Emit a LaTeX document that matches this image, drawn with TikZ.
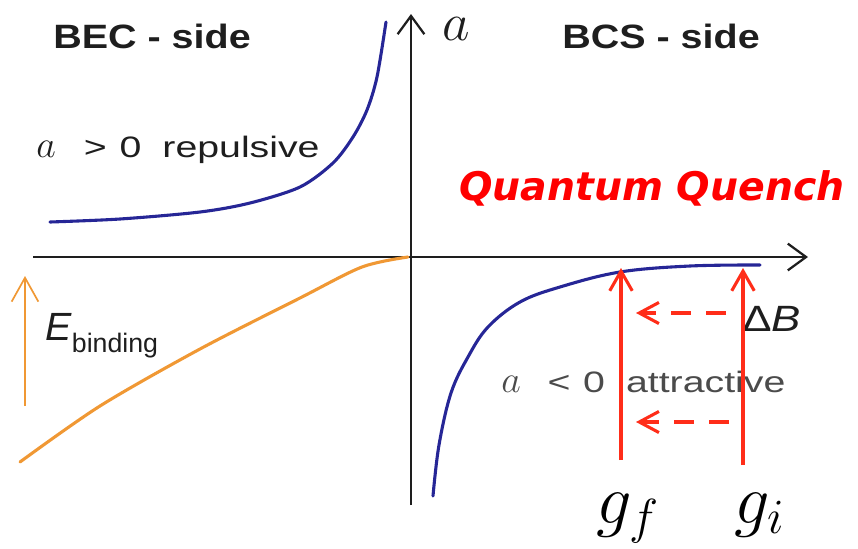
\RequirePackage{fix-cm}
\documentclass[tikz,border=0pt]{standalone}
\usepackage{amsmath}
\usepackage{fontspec}
\newfontfamily\labelfont{Liberation Sans}
\newfontfamily\titlefont[FakeStretch=1.17]{Liberation Sans}
\newfontfamily\regimefont[FakeStretch=1.33]{Liberation Sans}
\newfontfamily\deltafont[FakeStretch=1.2]{Liberation Sans}
\newfontfamily\quenchfont{DejaVu Sans}
\usetikzlibrary{arrows.meta}

\definecolor{curveblue}{RGB}{38,38,150}
\definecolor{bindorange}{RGB}{240,152,52}
\definecolor{quenchred}{RGB}{255,45,25}
\definecolor{labelgray}{RGB}{30,30,30}
\definecolor{softgray}{RGB}{75,75,75}

\begin{document}
\begin{tikzpicture}[
    x=0.025cm,
    y=-0.025cm,
    axis/.style={
        -{Straight Barb[length=13pt,width=19pt,line width=1.6pt]},
        line width=1.6pt,
        labelgray
    },
    bluecurve/.style={
        curveblue,
        line width=2.2pt,
        line cap=round
    },
    orangecurve/.style={
        bindorange,
        line width=2.2pt,
        line cap=round
    },
    bindarrow/.style={
        -{Straight Barb[length=17pt,width=19pt,line width=1.2pt]},
        bindorange,
        line width=1.2pt
    },
    quencharrow/.style={
        -{Straight Barb[length=14pt,width=16pt,line width=2.2pt]},
        quenchred,
        line width=2.2pt
    },
    sweeparrow/.style={
        -{Straight Barb[length=14pt,width=15pt,line width=2.2pt]},
        quenchred,
        line width=2.2pt,
        dash pattern=on 14pt off 11pt
    },
    sidetitle/.style={
        anchor=base west,
        inner sep=0pt,
        font=\titlefont\bfseries\fontsize{24}{28}\selectfont,
        text=labelgray
    },
    regime/.style={
        anchor=base west,
        inner sep=0pt,
        font=\regimefont\fontsize{21}{25}\selectfont
    },
    couplinglabel/.style={
        anchor=base,
        inner sep=0pt,
        font=\fontsize{50}{54}\selectfont
    }
]

\useasboundingbox (0,0) rectangle (858,548);

% ------------------------------------------------------------
% Axes
% ------------------------------------------------------------
\coordinate (axis-left)   at (33,257);
\coordinate (axis-right)  at (808,257);
\coordinate (axis-bottom) at (411,505);
\coordinate (axis-top)    at (411,14);

\draw[axis] (axis-left)   -- (axis-right);
\draw[axis] (axis-bottom) -- (axis-top);

\node[anchor=base west, inner sep=0pt, font=\fontsize{38}{40}\selectfont,
    text=labelgray] (a-label) at (442,40) {$a$};
\node[anchor=base west, inner sep=0pt, font=\deltafont\fontsize{26}{28}\selectfont,
    text=labelgray] (db-label) at (742,331) {Δ\textit{B}};

% ------------------------------------------------------------
% BEC side
% ------------------------------------------------------------
\node[sidetitle] (bec-title) at (53,48) {BEC - side};

\draw[bluecurve] plot[smooth] coordinates
    {(50,222) (120,219) (200,212) (250,203) (300,187) (333,163)
     (353,137) (367,110) (377,77) (386,22)};

\draw[orangecurve] plot[smooth] coordinates
    {(20,462) (100,406) (200,349) (300,298) (362,267) (408,257)};

\node[regime, text=labelgray] (repulsive) at (36,157)
    {{\fontsize{27}{30}\selectfont$a$}\hspace{20pt}>\hspace{9pt}0\hspace{15pt}repulsive};

\coordinate (bind-low)  at (25,406);
\coordinate (bind-high) at (25,276);
\draw[bindarrow] (bind-low) -- (bind-high);

\node[anchor=base west, inner sep=0pt, text=labelgray] (binding) at (45,340)
    {\labelfont\fontsize{28}{30}\selectfont\textit{E}%
     \raisebox{-9pt}{\fontsize{19}{21}\selectfont binding}};

% ------------------------------------------------------------
% BCS side
% ------------------------------------------------------------
\node[sidetitle] (bcs-title) at (562,48) {BCS - side};

\draw[bluecurve] plot[smooth, tension=0.6] coordinates
    {(433,496) (439,445) (451,393) (468,357) (488,327) (520,302)
     (560,287) (620,272) (690,266) (760,265)};

\node[regime, text=softgray] (attractive) at (501,392)
    {{\fontsize{27}{30}\selectfont$a$}\hspace{19pt}<\hspace{9pt}0\hspace{15pt}attractive};

\node[anchor=base west, inner sep=0pt, text=red,
    font=\quenchfont\bfseries\itshape\fontsize{28}{32}\selectfont]
    (quench) at (459,200) {Quantum\ Quench};

% ------------------------------------------------------------
% Quench arrows
% ------------------------------------------------------------
\node[couplinglabel] (gf) at (628,523) {$g_f$};
\node[couplinglabel] (gi) at (760,523) {$g_i$};

\coordinate (gf-low)  at (621,460);
\coordinate (gf-high) at (621,268);
\coordinate (gi-low)  at (743,465);
\coordinate (gi-high) at (743,268);

\draw[quencharrow] (gf-low) -- (gf-high);
\draw[quencharrow] (gi-low) -- (gi-high);

\coordinate (sweep-a-from) at (726,313);
\coordinate (sweep-a-to)   at (636,313);
\coordinate (sweep-b-from) at (729,422);
\coordinate (sweep-b-to)   at (636,422);

\draw[sweeparrow] (sweep-a-from) -- (sweep-a-to);
\draw[sweeparrow] (sweep-b-from) -- (sweep-b-to);

\end{tikzpicture}
\end{document}
